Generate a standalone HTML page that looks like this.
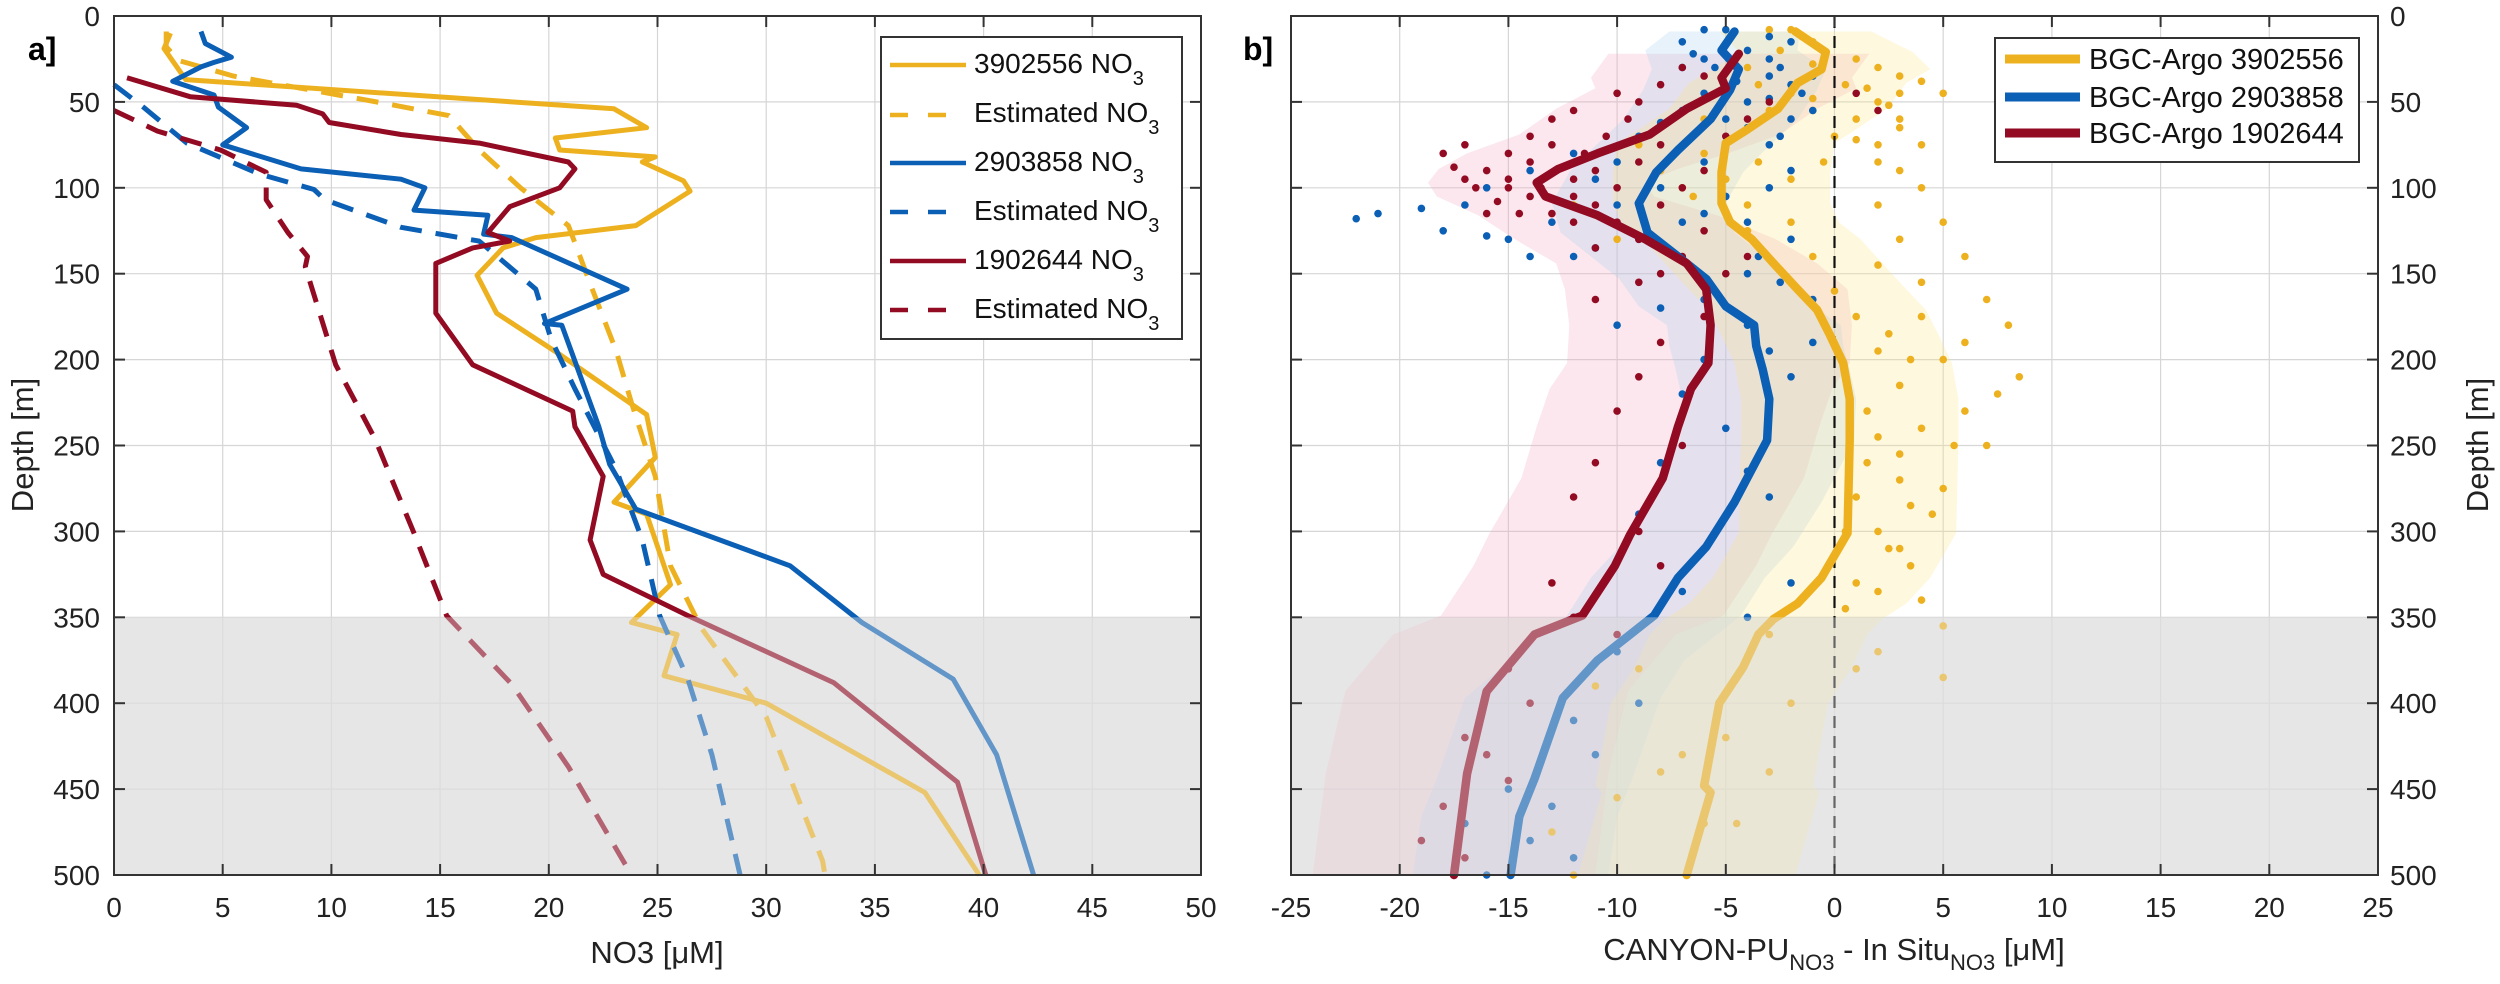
<!DOCTYPE html>
<html><head><meta charset="utf-8">
<style>
html,body{margin:0;padding:0;background:#fff;}
svg{display:block;font-family:"Liberation Sans",Arial,sans-serif;}
</style></head>
<body>
<svg id="fig" width="2500" height="984" viewBox="0 0 2500 984" xmlns="http://www.w3.org/2000/svg"></svg>
<script>
// ---------- DATA ----------
const depthTicks = [0,50,100,150,200,250,300,350,400,450,500];
const xTicksA = [0,5,10,15,20,25,30,35,40,45,50];
const xTicksB = [-25,-20,-15,-10,-5,0,5,10,15,20,25];

// Panel a: [NO3, depth]
const orangeObs = [[2.6,10],[2.3,19],[3.3,37],[23,54],[24.5,65],[20.3,71],[20.5,78],[24.9,82],[24.3,85],[26.2,96],[26.5,102],[24,122],[19.4,129],[17.9,135],[16.7,151],[17.6,173],[20.5,197],[24.5,232],[24.9,257],[23,283],[24.5,290],[25.6,331],[23.8,353],[25.9,360],[25.3,384],[30,400],[37.3,452],[39.8,500]];
const orangeEst = [[2.4,9],[2.4,18],[3,26],[5.5,35],[12.5,51],[15.4,58],[16.8,78],[18.7,100],[20.9,122],[22,159],[23.1,195],[23.8,225],[24.9,268],[25.6,320],[27,356],[30,408],[32.6,492],[32.7,500]];
const blueObs = [[4,9],[4.2,16],[5.4,24],[4.6,27],[4,29.6],[2.7,38],[4.6,46],[4.8,53],[6.1,65],[5,75],[8.6,89],[13.2,95],[14.3,100],[13.8,113],[17.2,116],[17,127],[18.3,129],[23.6,159],[19.8,179],[20.6,180],[22.3,239],[22.8,261],[24,287],[31.1,320],[34.4,353],[38.6,386],[40.6,430],[42.3,500]];
const blueEst = [[0,40],[1.35,53],[3.35,74],[6.7,92],[9.2,101],[9.7,107],[13.2,123],[16.8,131],[19.4,159],[20.1,188],[21.2,217],[23.1,264],[24.3,305],[25.1,349],[26.4,386],[27.5,430],[28.8,500]];
const redObs = [[0.6,36],[3.5,47],[8.4,52],[9.6,57],[9.9,62],[13.2,69],[16.8,74],[20.9,85],[21.2,89],[20.5,100],[18.2,111],[17.2,126],[18.2,131],[16.5,135],[14.8,144],[14.8,173],[16.5,203],[21.1,230],[21.2,239],[22.5,268],[21.9,305],[22.5,325],[26.4,349],[33.1,388],[38.8,446],[40.1,500]];
const redEst = [[0,55],[2,67],[4.9,78],[7,91],[7,107],[8,126],[8.9,140],[8.8,146],[10.2,203],[12,246],[13.8,301],[15.3,349],[18.3,389],[20.9,437],[23.8,500]];

// Panel b mean profiles: [diff, depth]
const orangeDiff = [[-1.8,9],[-0.4,21],[-0.6,31],[-1.7,39],[-2.6,54],[-4,66],[-5,74],[-5.2,91],[-5.2,109],[-4.8,120],[-3.8,130],[-2.8,144],[-1.7,159],[-0.8,171],[-0.2,186],[0.4,202],[0.7,223],[0.7,247],[0.6,301],[-0.6,327],[-1.7,342],[-2.8,351],[-3.5,360],[-4.2,379],[-5.3,400],[-6,448],[-5.7,452],[-6.8,500]];
const blueDiff = [[-4.6,9],[-5.2,20],[-4.4,31],[-4.8,43],[-5.7,60],[-7.2,78],[-8.2,91],[-9,109],[-8.6,126],[-7.2,140],[-5.9,153],[-5,169],[-3.7,180],[-3.6,192],[-3.3,206],[-3,223],[-3.1,247],[-4.6,283],[-5.9,309],[-7.2,327],[-8.3,349],[-10.9,375],[-12.5,397],[-13.8,444],[-14.5,466],[-14.9,500]];
const redDiff = [[-4.4,22],[-5.2,36],[-5,42],[-6.8,54],[-8.5,69],[-10.9,80],[-12.7,89],[-13.7,97],[-13.3,105],[-10.9,116],[-8.7,130],[-6.8,144],[-5.9,159],[-5.7,180],[-5.8,202],[-6.6,217],[-7.2,239],[-7.9,269],[-9.4,302],[-10.1,320],[-11.6,349],[-13.8,360],[-16,393],[-16.9,441],[-17.5,500]];
const orangeSpread = [3.5,4,5,5,5,5,5,5,5,5,5,5,5,5,5,5,5,5,5,5,5,5,5,5,5,5,5,5];
const blueSpread = [3,3.5,4,4,4,4,4,4,4,4,4,4,4,4,4,4,4,4,4,4,4,4,4.5,4.5,4.5,4.5];
const redSpread = [6,6,6,6,6,6,5.5,5,5,5.5,6,6,6.5,6.5,6.5,6.5,6.5,6.5,6.5,6.5,6.5,6.5,6.5,6.5,6.5];

// scatter points [diff, depth]
const orangeDots = [[-3,8],[-2,8],[-1,15],[1,25],[2,30],[3,35],[4,38],[3,45],[2,50],[5,45],[1,60],[-1,55],[0,70],[2,75],[3,90],[-6,60],[-8,90],[-9,75],[-7,100],[-12,110],[-10,130],[4,100],[2,110],[5,120],[6,140],[4,155],[7,165],[8,180],[6,190],[8.5,210],[7.5,220],[5,200],[4,240],[5.5,250],[3,270],[4.5,290],[2,300],[3.5,320],[1,330],[5,355],[5,385],[2,370],[-2,400],[-5,420],[-8,440],[-12,500],[1,380],[-3,360],[-9,380],[3,60],[4,75],[2,85],[3,130],[2,145],[4,175],[2,195],[3,215],[1.5,260],[2.5,310],[0.5,345],[-4,30],[-3,55],[-6,80],[-4,110],
 [-1.5,12],[-2.5,20],[-1,28],[-3.5,40],[-2,45],[-1,48],[0.5,40],[1.5,42],[2.5,52],[3,65],[1,72],[-0.5,85],[-2,95],[-3.5,85],[-5,95],[-6.5,105],[-4,125],[-2,120],[-1,140],[0,160],[1,175],[2.5,185],[3.5,200],[1.5,230],[2,245],[3,255],[1,280],[3.5,285],[2,335],[4,340],[3,310],[0.5,300],[-4.5,470],[-3,440],[-6,470],[-7,430],[-11,390],[-13,475],[-10,455],[6,230],[7,250],[5,275]];
const blueDots = [[-6,8],[-5,8],[-3,12],[-4,20],[-6,25],[-7,30],[-3,35],[-2,40],[-4,50],[-1,55],[-5,60],[-9,70],[-12,80],[-14,90],[-16,100],[-21,115],[-22,118],[-18,125],[-15,130],[-12,140],[-10,110],[-7,120],[-3,100],[-2,130],[-4,150],[-1,165],[-8,170],[-10,180],[-6,200],[-2,210],[-5,240],[-8,260],[-3,280],[-6,310],[-2,330],[-10,370],[-12,410],[-15,450],[-14,480],[-16,500],[-12,490],[-2,15],[-3,25],[-1,35],[-2,60],[-3,75],[-6,85],[-2,90],[-5,105],[-13,120],[-17,110],[-4,180],[-1,190],
 [-7,15],[-6.5,22],[-5.5,30],[-4.5,38],[-2.5,30],[-1.5,45],[-3,48],[-6,45],[-7,55],[-8,62],[-4,65],[-2.5,70],[-10,85],[-11,95],[-8,100],[-6,115],[-9,130],[-11,135],[-14,140],[-16,128],[-19,112],[-4,120],[-3.5,140],[-2.5,155],[-6,165],[-3,195],[-7,220],[-4,265],[-9,290],[-7,335],[-4,350],[-11,430],[-13,460],[-9,400],[-17,470]];
const redDots = [[-6,35],[-8,40],[-10,45],[-12,55],[-13,60],[-14,70],[-15,80],[-16,90],[-15,95],[-14,105],[-13,115],[-12,120],[-11,110],[-10,100],[-9,85],[-8,75],[-6,125],[-7,140],[-5,150],[-9,155],[-11,165],[-8,190],[-10,230],[-7,250],[-12,280],[-9,300],[-13,330],[-10,360],[-14,400],[-16,430],[-18,460],[-17,490],[-15,445],[1,45],[2,55],[-12,95],[-15,100],[-11,90],[-9,130],[-4,60],[-5,70],
 [-17,75],[-18,80],[-17.5,88],[-16.5,100],[-17,95],[-15.5,108],[-14.5,115],[-13.5,100],[-12.5,88],[-11.5,80],[-10.5,70],[-9.5,60],[-13,75],[-14,85],[-16,115],[-12,105],[-10,120],[-8,110],[-7,100],[-6,90],[-11,135],[-8,150],[-4,140],[-3,50],[-7,30],[-9,50],[-6,175],[-9,210],[-11,260],[-8,320],[-12,350],[-15,380],[-17,420],[-19,480]];

// ---------- GEOMETRY ----------
const NS = "http://www.w3.org/2000/svg";
const svg = document.getElementById('fig');
const TOP = 16, BOT = 875;
const A = {l:114, r:1201, min:0, max:50};
const B = {l:1291, r:2378, min:-25, max:25};
function yS(d){ return TOP + d/500*(BOT-TOP); }
function xA(v){ return A.l + (v-A.min)/(A.max-A.min)*(A.r-A.l); }
function xB(v){ return B.l + (v-B.min)/(B.max-B.min)*(B.r-B.l); }
function mk(tag, attrs, parent){
  const e = document.createElementNS(NS, tag);
  for (const k in attrs) e.setAttribute(k, attrs[k]);
  (parent||svg).appendChild(e); return e;
}
function pathOf(pts, xf){ return pts.map((p,i)=>(i?'L':'M')+xf(p[0]).toFixed(1)+','+yS(p[1]).toFixed(1)).join(' '); }

function drawAxesBase(P, xf, ticks, name){
  const g = mk('g', {});
  
  
  mk('rect',{x:P.l,y:yS(350),width:P.r-P.l,height:yS(500)-yS(350),fill:'#e6e6e6'},g);
  ticks.forEach(t=>{ mk('line',{x1:xf(t),x2:xf(t),y1:TOP,y2:BOT,stroke:'#d6d6d6','stroke-width':1.2},g); });
  depthTicks.forEach(t=>{ mk('line',{x1:P.l,x2:P.r,y1:yS(t),y2:yS(t),stroke:'#d6d6d6','stroke-width':1.2},g); });
}
function drawAxesFrame(P, xf, ticks, name, rightLabels){
  const g = mk('g', {});
  
  
  mk('rect',{x:P.l,y:TOP,width:P.r-P.l,height:BOT-TOP,fill:'none',stroke:'#333','stroke-width':2},g);
  ticks.forEach(t=>{
    const x = xf(t);
    mk('line',{x1:x,x2:x,y1:BOT,y2:BOT-11,stroke:'#333','stroke-width':2},g);
    mk('line',{x1:x,x2:x,y1:TOP,y2:TOP+11,stroke:'#333','stroke-width':2},g);
    const tx = mk('text',{x:x,y:917,'font-size':28,'text-anchor':'middle',fill:'#222'},g);
    tx.textContent = t;
    
    
  });
  depthTicks.forEach(t=>{
    const y = yS(t);
    mk('line',{x1:P.l,x2:P.l+11,y1:y,y2:y,stroke:'#333','stroke-width':2},g);
    mk('line',{x1:P.r,x2:P.r-11,y1:y,y2:y,stroke:'#333','stroke-width':2},g);
    const tx = rightLabels ? mk('text',{x:P.r+12,y:y+10,'font-size':28,'text-anchor':'start',fill:'#222'},g)
                           : mk('text',{x:P.l-14,y:y+10,'font-size':28,'text-anchor':'end',fill:'#222'},g);
    tx.textContent = t;
    
    
  });
}

const OR = '#edb120', BL = '#0b5fb5', RD = '#920b23';

// ---------- PANEL A ----------
drawAxesBase(A, xA, xTicksA, 'panel-a');
const seriesA = [
  [orangeObs, OR, false, 'orange-observed-line'],
  [orangeEst, OR, true, 'orange-estimated-line'],
  [blueObs, BL, false, 'blue-observed-line'],
  [blueEst, BL, true, 'blue-estimated-line'],
  [redObs, RD, false, 'red-observed-line'],
  [redEst, RD, true, 'red-estimated-line']
];
seriesA.forEach(s=>{
  const p = mk('path',{d:pathOf(s[0],xA),fill:'none',stroke:s[1],'stroke-width':5,'stroke-linejoin':'round','stroke-dasharray':s[2]?'22,14':'none'});
  
  
});
const fadeA = mk('rect',{x:A.l+1,y:yS(350),width:A.r-A.l-2,height:yS(500)-yS(350),fill:'#e6e6e6',opacity:0.4});


drawAxesFrame(A, xA, xTicksA, 'panel-a', false);

// ---------- PANEL B ----------
drawAxesBase(B, xB, xTicksB, 'panel-b');
function band(prof, spread, fill, name){
  const left = prof.map((p,i)=>[p[0]-spread[i], p[1]]);
  const right = prof.map((p,i)=>[p[0]+spread[i], p[1]]).reverse();
  const d = pathOf(left.concat(right), xB) + ' Z';
  const e = mk('path',{d:d,fill:fill,opacity:0.28,stroke:'none'});
  
  
}
band(redDiff, redSpread, '#f0a8bd', 'red-spread-band');
band(blueDiff, blueSpread, '#a8cff0', 'blue-spread-band');
band(orangeDiff, orangeSpread, '#fbe58a', 'orange-spread-band');
function dots(arr, col, name){
  arr.forEach(p=>{
    const c = mk('circle',{cx:xB(p[0]).toFixed(1),cy:yS(p[1]).toFixed(1),r:3.8,fill:col});
    
    
  });
}
dots(orangeDots, OR, 'orange-scatter-point');
dots(blueDots, BL, 'blue-scatter-point');
dots(redDots, RD, 'red-scatter-point');
const zl = mk('line',{x1:xB(0),x2:xB(0),y1:TOP,y2:BOT,stroke:'#111','stroke-width':2.2,'stroke-dasharray':'12,8'});


[[orangeDiff,OR,'orange-mean-profile'],[blueDiff,BL,'blue-mean-profile'],[redDiff,RD,'red-mean-profile']].forEach(s=>{
  const p = mk('path',{d:pathOf(s[0],xB),fill:'none',stroke:s[1],'stroke-width':8.5,'stroke-linejoin':'round','stroke-linecap':'round'});
  
  
});
const fadeB = mk('rect',{x:B.l+1,y:yS(350),width:B.r-B.l-2,height:yS(500)-yS(350),fill:'#e6e6e6',opacity:0.4});


drawAxesFrame(B, xB, xTicksB, 'panel-b', true);
</script>

<svg width="2500" height="984" style="position:absolute;left:0;top:0;font-family:'Liberation Sans',Arial,sans-serif">
  <text x="28" y="60" font-size="32" font-weight="bold">a]</text>
  <text x="1243" y="60" font-size="32" font-weight="bold">b]</text>
  <text transform="translate(33,445) rotate(-90)" text-anchor="middle" font-size="31" fill="#222">Depth [m]</text>
  <text transform="translate(2488,445) rotate(-90)" text-anchor="middle" font-size="31" fill="#222">Depth [m]</text>
  <text x="657" y="963" text-anchor="middle" font-size="31" fill="#222">NO3 [μM]</text>
  <text x="1834" y="960" text-anchor="middle" font-size="31" fill="#222">CANYON-PU<tspan font-size="22" dy="10">NO3</tspan><tspan dy="-10"> - In Situ</tspan><tspan font-size="22" dy="10">NO3</tspan><tspan dy="-10"> [μM]</tspan></text>

  <g>
    <rect x="881" y="37" width="301" height="302" fill="#fff" stroke="#333" stroke-width="2"/>
    <g font-size="28" fill="#111">
      <line x1="890" y1="65" x2="966" y2="65" stroke="#edb120" stroke-width="4.5"/>
      <text x="974" y="73">3902556 NO<tspan font-size="20" dy="12">3</tspan></text>
      <line x1="890" y1="115" x2="966" y2="115" stroke="#edb120" stroke-width="4.5" stroke-dasharray="18,20"/>
      <text x="974" y="122">Estimated NO<tspan font-size="20" dy="12">3</tspan></text>
      <line x1="890" y1="163" x2="966" y2="163" stroke="#0b5fb5" stroke-width="4.5"/>
      <text x="974" y="171">2903858 NO<tspan font-size="20" dy="12">3</tspan></text>
      <line x1="890" y1="212" x2="966" y2="212" stroke="#0b5fb5" stroke-width="4.5" stroke-dasharray="18,20"/>
      <text x="974" y="220">Estimated NO<tspan font-size="20" dy="12">3</tspan></text>
      <line x1="890" y1="261" x2="966" y2="261" stroke="#920b23" stroke-width="4.5"/>
      <text x="974" y="269">1902644 NO<tspan font-size="20" dy="12">3</tspan></text>
      <line x1="890" y1="310" x2="966" y2="310" stroke="#920b23" stroke-width="4.5" stroke-dasharray="18,20"/>
      <text x="974" y="318">Estimated NO<tspan font-size="20" dy="12">3</tspan></text>
    </g>
  </g>
  <g>
    <rect x="1995" y="38" width="364" height="124" fill="#fff" stroke="#333" stroke-width="2"/>
    <g font-size="29" fill="#111">
      <line x1="2005" y1="59" x2="2080" y2="59" stroke="#edb120" stroke-width="9"/>
      <text x="2089" y="69">BGC-Argo 3902556</text>
      <line x1="2005" y1="97" x2="2080" y2="97" stroke="#0b5fb5" stroke-width="9"/>
      <text x="2089" y="107">BGC-Argo 2903858</text>
      <line x1="2005" y1="133" x2="2080" y2="133" stroke="#920b23" stroke-width="9"/>
      <text x="2089" y="143">BGC-Argo 1902644</text>
    </g>
  </g>
</svg>
</body></html>
